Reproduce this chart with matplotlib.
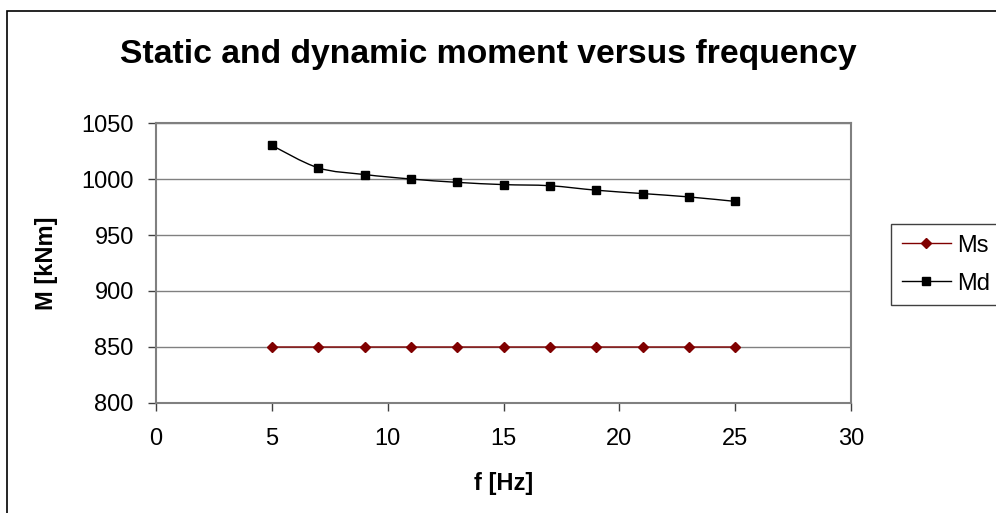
import matplotlib.pyplot as plt
import numpy as np
from matplotlib.path import Path
from matplotlib.patches import PathPatch, Rectangle
from matplotlib.lines import Line2D

plt.rcParams['font.family'] = ['Liberation Sans', 'DejaVu Sans']

# frequency in Hz and moments in kNm
f_hz = [5, 7, 9, 11, 13, 15, 17, 19, 21, 23, 25]
ms_vals = [850, 850, 850, 850, 850, 850, 850, 850, 850, 850, 850]
md_vals = [1030, 1010, 1004, 1000, 997, 995, 994, 990, 987, 984, 980]

x_ticks = [0, 5, 10, 15, 20, 25, 30]
y_ticks = [800, 850, 900, 950, 1000, 1050]

ms_color = '#800000'
md_color = 'black'
axis_gray = '#808080'


def smooth_path(x, y):
    # catmull-rom style bezier through the points (like a "smoothed line")
    pts = np.column_stack([x, y]).astype(float)
    verts = [pts[0]]
    codes = [Path.MOVETO]
    n = len(pts)
    for i in range(n - 1):
        p0 = pts[max(i - 1, 0)]
        p1 = pts[i]
        p2 = pts[i + 1]
        p3 = pts[min(i + 2, n - 1)]
        c1 = p1 + (p2 - p0) / 6
        c2 = p2 - (p3 - p1) / 6
        verts += [c1, c2, p2]
        codes += [Path.CURVE4] * 3
    return Path(verts, codes)


fig = plt.figure(figsize=(9.96, 5.13), dpi=100)

# outer chart frame
fig.patches.append(Rectangle((7 / 996, -0.1), 1.2, 1 - 11 / 513 + 0.1,
                             transform=fig.transFigure, fill=False,
                             edgecolor='black', linewidth=1.2))

ax = fig.add_axes([156 / 996, 1 - 403 / 513, 695 / 996, 280 / 513])

ax.set_xlim(0, 30)
ax.set_ylim(800, 1050)
ax.set_xticks(x_ticks)
ax.set_yticks(y_ticks)
ax.yaxis.grid(True, color=axis_gray, linewidth=1)
ax.set_axisbelow(True)

for side in ['left', 'bottom', 'top', 'right']:
    ax.spines[side].set_color(axis_gray)
    ax.spines[side].set_linewidth(1.5)

ax.tick_params(axis='both', direction='out', length=6, width=1,
               color='#404040', labelsize=17)
ax.tick_params(axis='x', pad=12)
ax.tick_params(axis='y', pad=10)

ax.add_patch(PathPatch(smooth_path(f_hz, ms_vals), fill=False,
                       edgecolor=ms_color, linewidth=1))
ax.plot(f_hz, ms_vals, linestyle='none', marker='D', markersize=5,
        color=ms_color)

ax.add_patch(PathPatch(smooth_path(f_hz, md_vals), fill=False,
                       edgecolor=md_color, linewidth=1))
ax.plot(f_hz, md_vals, linestyle='none', marker='s', markersize=5.5,
        color=md_color)

ax.set_xlabel('f [Hz]', fontsize=17, fontweight='bold', labelpad=16)
ax.set_ylabel('M [kNm]', fontsize=17, fontweight='bold', labelpad=17)

fig.text(488 / 996, 1 - 54 / 513, 'Static and dynamic moment versus frequency',
         ha='center', va='center', fontsize=24.3, fontweight='bold')

handles = [
    Line2D([], [], color=ms_color, linewidth=1, marker='D', markersize=5),
    Line2D([], [], color=md_color, linewidth=1, marker='s', markersize=5.5),
]
leg = fig.legend(handles, ['Ms', 'Md'], loc='upper left',
                 bbox_to_anchor=(891 / 996, 1 - 224 / 513),
                 borderaxespad=0, fontsize=17, handlelength=2.1,
                 handletextpad=0.25, labelspacing=0.68, borderpad=0.45,
                 fancybox=False, framealpha=1, edgecolor='#404040')
leg.get_frame().set_linewidth(1)

fig.savefig('out.png', dpi=100)
